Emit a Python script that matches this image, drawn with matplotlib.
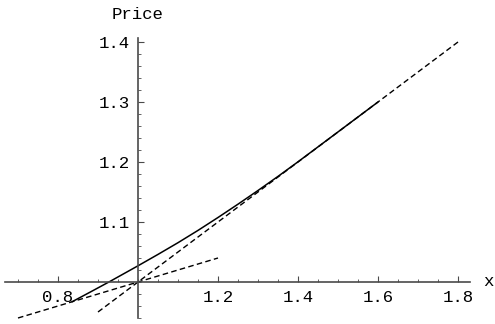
import numpy as np
import matplotlib
matplotlib.use("Agg")
import matplotlib.pyplot as plt
from matplotlib.ticker import FixedLocator

plt.rcParams["lines.scale_dashes"] = False

# price curve
curve_x = [0.835, 0.88, 0.93, 1.0, 1.05, 1.1, 1.15, 1.2, 1.25, 1.3, 1.35, 1.4, 1.5, 1.6]
curve_p = [0.967, 0.983, 1.001, 1.027, 1.046, 1.0655, 1.086, 1.1075, 1.1297,
           1.1525, 1.176, 1.2003, 1.2501, 1.300]

# dashed straight lines (end points)
steep_x = [0.9, 1.8]
steep_p = [0.95, 1.4]
flat_x = [0.7, 1.2]
flat_p = [0.94, 1.04]

x_major = [0.8, 1.2, 1.4, 1.6, 1.8]
y_major = [1.1, 1.2, 1.3, 1.4]

mono = "Liberation Mono"
axis_col = "#4a4a4a"

fig = plt.figure(figsize=(4.95, 3.24), dpi=100)
ax = fig.add_axes([0, 0, 1, 1])
ax.set_xlim(0.655, 1.8925)
ax.set_ylim(0.93, 1.47)

dash = (0, (4.0, 2.4))
ax.plot(steep_x, steep_p, color="black", lw=1.0, linestyle=dash)
ax.plot(flat_x, flat_p, color="black", lw=1.0, linestyle=dash)
ax.plot(curve_x, curve_p, color="black", lw=1.1, solid_capstyle="round")

for s in ["top", "right"]:
    ax.spines[s].set_visible(False)
ax.spines["left"].set_position(("data", 1.0))
ax.spines["bottom"].set_position(("data", 1.0))
ax.spines["left"].set_bounds(0.94, 1.407)
ax.spines["bottom"].set_bounds(0.668, 1.83)
for s in ["left", "bottom"]:
    ax.spines[s].set_color(axis_col)
    ax.spines[s].set_linewidth(1.2)

ax.xaxis.set_major_locator(FixedLocator(x_major))
ax.xaxis.set_minor_locator(FixedLocator(np.round(np.arange(0.7, 1.81, 0.05), 2)))
ax.yaxis.set_major_locator(FixedLocator(y_major))
ax.yaxis.set_minor_locator(FixedLocator(np.round(np.arange(0.94, 1.401, 0.02), 2)))
ax.set_xticklabels([f"{v:.1f}" for v in x_major])
ax.set_yticklabels([f"{v:.1f}" for v in y_major])

ax.tick_params(axis="both", which="both", direction="in", color=axis_col)
ax.tick_params(axis="both", which="major", length=4, width=0.8, labelsize=12.5, pad=6)
ax.tick_params(axis="both", which="minor", length=2, width=0.6)
for lab in ax.get_xticklabels() + ax.get_yticklabels():
    lab.set_fontfamily(mono)

ax.text(1.0, 1.445, "Price", fontsize=12.5, family=mono, ha="center", va="center")
ax.text(1.877, 1.0, "x", fontsize=12.5, family=mono, ha="center", va="center")

fig.savefig("out.png", dpi=100)
